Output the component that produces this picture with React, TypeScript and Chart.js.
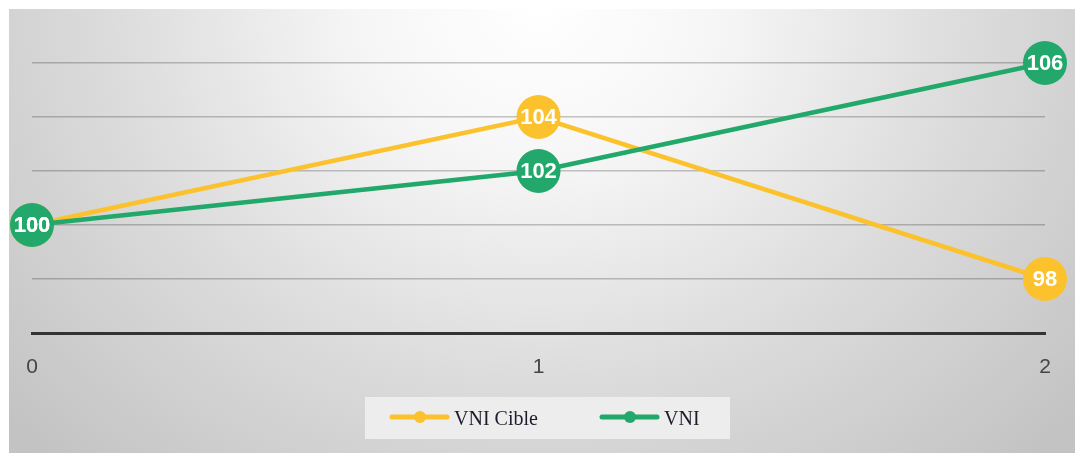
import React, { useEffect, useRef } from "react";
import { Chart, registerables } from "chart.js";

Chart.register(...registerables);

const categories = ["0", "1", "2"];
const vniCible = [100, 104, 98];
const vni = [100, 102, 106];
const seriesNames = ["VNI Cible", "VNI"];
const yMin = 96;
const yMax = 106;
const yStep = 2;

const YELLOW = "#FCC22D";
const GREEN = "#21A86A";

const backgroundPlugin = {
  id: "panelBg",
  beforeDraw(chart: any) {
    const { ctx, width, height } = chart;
    ctx.save();
    const cx = 532;
    ctx.translate(cx, 0);
    ctx.scale(1.15, 1);
    const g = ctx.createRadialGradient(0, 0, 0, 0, 0, 620);
    g.addColorStop(0, "#ffffff");
    g.addColorStop(0.25, "#f6f6f6");
    g.addColorStop(0.6, "#dcdcdc");
    g.addColorStop(1, "#c3c3c3");
    ctx.fillStyle = g;
    ctx.fillRect(-cx / 1.15 + 1 / 1.15, 1, (width - 1) / 1.15, height - 1);
    ctx.restore();
  },
};

const labelPlugin = {
  id: "pointLabels",
  afterDatasetsDraw(chart: any) {
    const { ctx } = chart;
    ctx.save();
    ctx.font = "bold 22px 'Liberation Sans', Arial, sans-serif";
    ctx.fillStyle = "#ffffff";
    ctx.textAlign = "center";
    ctx.textBaseline = "middle";
    const metas = chart.getSortedVisibleDatasetMetas().slice().reverse();
    metas.forEach((meta: any) => {
      const ds = chart.data.datasets[meta.index];
      meta.data.forEach((pt: any, i: number) => {
        ctx.fillText(String(ds.data[i]), pt.x, pt.y + 1);
      });
    });
    ctx.restore();
  },
};

const legendPlugin = {
  id: "customLegend",
  afterDraw(chart: any) {
    const { ctx } = chart;
    ctx.save();
    ctx.fillStyle = "rgba(238,238,238,0.95)";
    ctx.fillRect(357, 389, 365, 42);
    const items = [
      { x: 384, color: YELLOW, text: seriesNames[0] },
      { x: 594, color: GREEN, text: seriesNames[1] },
    ];
    const y = 409;
    items.forEach((it) => {
      ctx.strokeStyle = it.color;
      ctx.lineWidth = 5;
      ctx.lineCap = "round";
      ctx.beginPath();
      ctx.moveTo(it.x, y);
      ctx.lineTo(it.x + 55, y);
      ctx.stroke();
      ctx.fillStyle = it.color;
      ctx.beginPath();
      ctx.arc(it.x + 28, y, 6, 0, Math.PI * 2);
      ctx.fill();
      ctx.fillStyle = "#1c1c2a";
      ctx.font = "20px 'Liberation Serif', 'Times New Roman', serif";
      ctx.textAlign = "left";
      ctx.textBaseline = "middle";
      ctx.fillText(it.text, it.x + 62, y + 3);
    });
    ctx.restore();
  },
};

export default function App() {
  const ref = useRef<HTMLCanvasElement | null>(null);
  useEffect(() => {
    if (!ref.current) return;
    const chart = new Chart(ref.current, {
      type: "line",
      data: {
        labels: categories,
        datasets: [
          {
            label: seriesNames[0],
            data: vniCible,
            borderColor: YELLOW,
            backgroundColor: YELLOW,
            borderWidth: 4.5,
            pointRadius: 22,
            pointHoverRadius: 22,
            pointBorderWidth: 0,
            pointBackgroundColor: YELLOW,
            tension: 0,
            clip: false as any,
            order: 1,
          },
          {
            label: seriesNames[1],
            data: vni,
            borderColor: GREEN,
            backgroundColor: GREEN,
            borderWidth: 4.5,
            pointRadius: 22,
            pointHoverRadius: 22,
            pointBorderWidth: 0,
            pointBackgroundColor: GREEN,
            tension: 0,
            clip: false as any,
            order: 0,
          },
        ],
      },
      options: {
        responsive: false,
        animation: false,
        layout: { autoPadding: false, padding: { left: 24, right: 31, top: 55, bottom: 0 } } as any,
        plugins: {
          legend: { display: false },
          tooltip: { enabled: false },
        },
        scales: {
          x: {
            type: "category",
            offset: false,
            grid: {
              display: true,
              drawOnChartArea: false,
              drawTicks: true,
              tickLength: 20,
              tickColor: "rgba(0,0,0,0)",
              color: "rgba(0,0,0,0)",
            },
            border: { display: true, color: "#333333", width: 3 },
            ticks: {
              color: "#454545",
              font: { size: 21, family: "'Liberation Sans', Arial, sans-serif" },
              padding: 2,
              maxRotation: 0,
            },
            afterFit(scale: any) {
              scale.height = 120;
            },
          },
          y: {
            min: yMin,
            max: yMax,
            ticks: { display: false, stepSize: yStep },
            grid: { color: "rgba(0,0,0,0.22)", lineWidth: 1.5, drawTicks: false },
            border: { display: false },
            afterFit(scale: any) {
              scale.width = 0;
            },
          },
        },
      },
      plugins: [backgroundPlugin, labelPlugin, legendPlugin],
    });
    return () => chart.destroy();
  }, []);
  return (
    <canvas
      ref={ref}
      width={1068}
      height={445}
      style={{ display: "block", width: 1068, height: 445 }}
    />
  );
}
